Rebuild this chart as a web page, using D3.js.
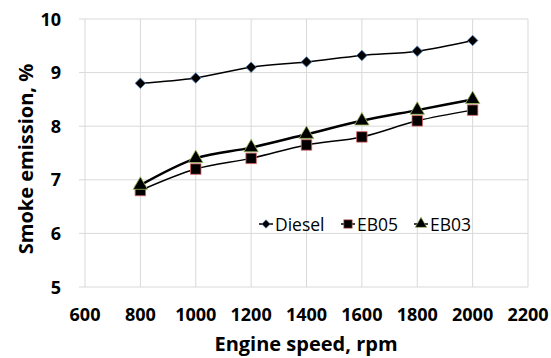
<!DOCTYPE html>
<html>
<head>
<meta charset="utf-8">
<script src="https://cdn.jsdelivr.net/npm/d3@7"></script>
<style>
  body { margin: 0; background: #fff; }
  text { font-family: "Open Sans", "Liberation Sans", sans-serif; }
</style>
</head>
<body>
<svg id="chart" width="551" height="358"></svg>
<script>
const speeds = [800, 1000, 1200, 1400, 1600, 1800, 2000];
const diesel = [8.8, 8.9, 9.1, 9.2, 9.32, 9.4, 9.6];
const eb05 = [6.8, 7.2, 7.4, 7.65, 7.8, 8.1, 8.3];
const eb03 = [6.9, 7.4, 7.6, 7.85, 8.1, 8.3, 8.5];
const xTicks = [600, 800, 1000, 1200, 1400, 1600, 1800, 2000, 2200];
const yTicks = [5, 6, 7, 8, 9, 10];

const svg = d3.select('#chart');
const plotL = 85, plotR = 528, plotT = 19, plotB = 287;

const x = d3.scaleLinear().domain([600, 2200]).range([plotL, plotR]);
const y = d3.scaleLinear().domain([5, 10]).range([plotB, plotT]);

// grid
const grid = svg.append('g').attr('stroke', '#d9d9d9').attr('stroke-width', 1);
xTicks.forEach(t => {
  grid.append('line').attr('x1', x(t)).attr('x2', x(t)).attr('y1', plotT).attr('y2', plotB);
});
yTicks.forEach(t => {
  grid.append('line').attr('x1', plotL - 6).attr('x2', plotR).attr('y1', y(t)).attr('y2', y(t));
});

// axis labels
svg.append('g').selectAll('text').data(xTicks).enter().append('text')
  .attr('x', d => x(d)).attr('y', 321)
  .attr('text-anchor', 'middle')
  .style('font-size', '18px').style('font-weight', 'bold').attr('fill', '#000')
  .text(d => d);

svg.append('g').selectAll('text').data(yTicks).enter().append('text')
  .attr('x', 61).attr('y', d => y(d) + 6.5)
  .attr('text-anchor', 'end')
  .style('font-size', '18px').style('font-weight', 'bold').attr('fill', '#000')
  .text(d => d);

svg.append('text')
  .attr('x', 306).attr('y', 351)
  .attr('text-anchor', 'middle')
  .style('font-size', '20px').style('font-weight', 'bold')
  .text('Engine speed, rpm');

svg.append('text')
  .attr('transform', `translate(33,159) rotate(-90)`)
  .attr('text-anchor', 'middle')
  .style('font-size', '20px').style('font-weight', 'bold')
  .text('Smoke emission, %');

const series = [
  { name: 'Diesel', values: diesel, width: 1.5, symbol: d3.symbolDiamond2, size: 70, edge: '#4f81bd' },
  { name: 'EB05', values: eb05, width: 1.5, symbol: d3.symbolSquare, size: 110, edge: '#e06666' },
  { name: 'EB03', values: eb03, width: 2.5, symbol: d3.symbolTriangle, size: 90, edge: '#9bbb59' }
];

const line = d3.line().x(d => x(d[0])).y(d => y(d[1])).curve(d3.curveMonotoneX);

series.forEach(s => {
  const pts = speeds.map((v, i) => [v, s.values[i]]);
  svg.append('path').attr('d', line(pts))
    .attr('fill', 'none').attr('stroke', '#000').attr('stroke-width', s.width);
  svg.append('g').selectAll('path').data(pts).enter().append('path')
    .attr('d', d3.symbol().type(s.symbol).size(s.size))
    .attr('transform', d => `translate(${x(d[0])},${y(d[1])})`)
    .attr('fill', '#000').attr('stroke', s.edge).attr('stroke-width', 0.8);
});

// legend
const legendX = [266, 348, 421];
series.forEach((s, i) => {
  const g = svg.append('g').attr('transform', `translate(${legendX[i]},224)`);
  g.append('line').attr('x1', -7).attr('x2', 7).attr('stroke', '#000').attr('stroke-width', 1.5);
  g.append('path').attr('d', d3.symbol().type(s.symbol).size(s.size * 0.65))
    .attr('fill', '#000').attr('stroke', s.edge).attr('stroke-width', 0.6);
  g.append('text').attr('x', 9).attr('y', 6.5)
    .style('font-size', '17.5px').attr('fill', '#000').text(s.name);
});
</script>
</body>
</html>
